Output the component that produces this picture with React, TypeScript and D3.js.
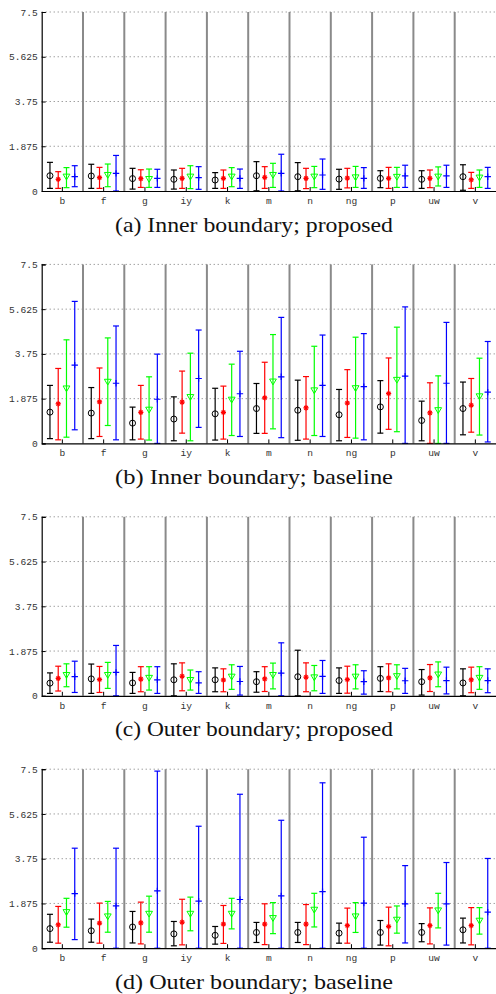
import React, { useEffect, useRef } from 'react';
import * as d3 from 'd3';

const width = 496;
const height = 994;

const categories = ['b', 'f', 'g', 'iy', 'k', 'm', 'n', 'ng', 'p', 'uw', 'v'];
const yTicks = [0, 1.875, 3.75, 5.625, 7.5];
const captions = [
  '(a) Inner boundary; proposed',
  '(b) Inner boundary; baseline',
  '(c) Outer boundary; proposed',
  '(d) Outer boundary; baseline',
];
const colors = ['#000000', '#ff0000', '#00ff00', '#0000ff'];
const markers = ['circle', 'asterisk', 'triangle', 'plus'];

// each entry: [low, mean, high]
const blackA = [[0.11, 0.64, 1.2], [0.11, 0.63, 1.12], [0.08, 0.52, 0.95], [0.08, 0.49, 0.88], [0.11, 0.46, 0.77], [0.01, 0.64, 1.23], [0.01, 0.6, 1.19], [0.07, 0.5, 0.91], [0.14, 0.53, 0.85], [0.11, 0.49, 0.85], [0.03, 0.6, 1.1]];
const redA = [[0.11, 0.49, 0.81], [0.11, 0.56, 0.99], [0.15, 0.52, 0.89], [0.11, 0.53, 0.95], [0.11, 0.53, 0.88], [0.11, 0.57, 1.02], [0.1, 0.53, 0.95], [0.13, 0.54, 0.95], [0.11, 0.53, 0.99], [0.14, 0.53, 0.88], [0.11, 0.47, 0.78]];
const greenA = [[0.14, 0.6, 0.98], [0.18, 0.67, 1.13], [0.15, 0.5, 0.92], [0.1, 0.6, 1.06], [0.18, 0.6, 0.98], [0.15, 0.67, 1.16], [0.14, 0.6, 1.03], [0.15, 0.57, 1.03], [0.15, 0.59, 0.99], [0.21, 0.6, 1.01], [0.15, 0.56, 0.88]];
const blueA = [[0.18, 0.6, 1.06], [0, 0.74, 1.49], [0.15, 0.53, 0.91], [0.07, 0.56, 1.02], [0.11, 0.53, 0.92], [0, 0.74, 1.54], [0.07, 0.67, 1.34], [0.11, 0.53, 0.98], [0.15, 0.63, 1.08], [0.15, 0.63, 1.08], [0.11, 0.6, 0.99]];

const blackB = [[0.2, 1.31, 2.43], [0.2, 1.27, 2.34], [0.15, 0.85, 1.52], [0.11, 1.02, 1.95], [0.14, 1.24, 2.31], [0.42, 1.46, 2.51], [0.13, 1.39, 2.65], [0.11, 1.2, 2.26], [0.43, 1.53, 2.63], [0.11, 0.96, 1.77], [0.36, 1.46, 2.57]];
const redB = [[0.15, 1.66, 3.14], [0.29, 1.74, 3.16], [0.18, 1.3, 2.43], [0.43, 1.73, 3.03], [0.18, 1.3, 2.4], [0.42, 1.91, 3.4], [0.18, 1.49, 2.8], [0.25, 1.69, 3.09], [0.59, 2.09, 3.58], [0, 1.28, 2.54], [0.47, 1.6, 2.72]];
const greenB = [[0.26, 2.3, 4.34], [0.75, 2.58, 4.42], [0.14, 1.41, 2.79], [0.11, 1.94, 3.78], [0.33, 1.83, 3.32], [0.61, 2.59, 4.56], [0.33, 2.22, 4.07], [0.22, 2.31, 4.45], [0.49, 2.66, 4.87], [0, 1.39, 2.83], [0.35, 1.97, 3.57]];
const blueB = [[0.57, 3.28, 5.95], [0.15, 2.52, 4.92], [0, 1.85, 3.74], [0.67, 2.72, 4.75], [0.29, 2.08, 3.86], [0.24, 2.79, 5.28], [0.29, 2.43, 4.54], [0.15, 2.38, 4.6], [0, 2.82, 5.72], [0, 2.52, 5.07], [0.06, 2.15, 4.27]];

const blackC = [[0.1, 0.53, 0.96], [0.1, 0.71, 1.33], [0.1, 0.54, 0.98], [0, 0.67, 1.34], [0.17, 0.67, 1.17], [0.15, 0.59, 1.01], [0, 0.8, 1.91], [0.1, 0.64, 1.17], [0.18, 0.73, 1.22], [0.03, 0.59, 1.1], [0, 0.54, 1.13]];
const redC = [[0.2, 0.73, 1.24], [0.14, 0.68, 1.23], [0.17, 0.7, 1.22], [0.21, 0.82, 1.38], [0.17, 0.66, 1.13], [0.18, 0.71, 1.22], [0.17, 0.78, 1.38], [0.11, 0.68, 1.24], [0.17, 0.75, 1.34], [0.18, 0.75, 1.31], [0.13, 0.67, 1.2]];
const greenC = [[0.38, 0.87, 1.34], [0.31, 0.87, 1.4], [0.24, 0.75, 1.22], [0.24, 0.66, 1.08], [0.27, 0.8, 1.3], [0.29, 0.87, 1.37], [0.21, 0.77, 1.27], [0.29, 0.8, 1.3], [0.29, 0.82, 1.3], [0.38, 0.89, 1.42], [0.27, 0.75, 1.22]];
const blueC = [[0.14, 0.8, 1.45], [0, 0.98, 2.11], [0.1, 0.67, 1.22], [0.1, 0.54, 1.01], [0.03, 0.6, 1.23], [0, 0.95, 2.22], [0.1, 0.81, 1.48], [0.07, 0.59, 1.05], [0.1, 0.63, 1.15], [0.08, 0.64, 1.2], [0.13, 0.64, 1.13]];

const blackD = [[0.25, 0.82, 1.42], [0.25, 0.73, 1.22], [0.22, 0.89, 1.54], [0.1, 0.6, 1.12], [0.17, 0.54, 0.91], [0.24, 0.66, 1.08], [0.24, 0.66, 1.08], [0.21, 0.63, 1.05], [0.13, 0.66, 1.16], [0.27, 0.66, 1.03], [0.22, 0.77, 1.26]];
const redD = [[0.21, 0.98, 1.75], [0.21, 1.05, 1.89], [0.18, 1.06, 1.93], [0.14, 1.09, 2.05], [0.2, 1.01, 1.79], [0.15, 1.01, 1.86], [0.15, 1.01, 1.83], [0.21, 0.95, 1.68], [0.1, 0.91, 1.72], [0.18, 0.95, 1.69], [0.14, 0.95, 1.7]];
const greenD = [[0.88, 1.51, 2.09], [0.67, 1.33, 1.96], [0.67, 1.44, 2.18], [0.73, 1.44, 2.14], [0.81, 1.44, 2.09], [0.61, 1.26, 1.91], [0.89, 1.61, 2.3], [0.66, 1.33, 1.91], [0.63, 1.19, 1.77], [0.85, 1.58, 2.3], [0.59, 1.15, 1.7]];
const blueD = [[0.36, 2.29, 4.19], [0, 1.77, 4.19], [0, 2.4, 7.42], [0, 1.97, 5.11], [0, 2.04, 6.45], [0, 2.19, 5.36], [0, 2.37, 6.93], [0, 1.89, 4.65], [0.22, 1.86, 3.46], [0.13, 1.86, 3.59], [0, 1.51, 3.76]];

const panels = [
  [blackA, redA, greenA, blueA],
  [blackB, redB, greenB, blueB],
  [blackC, redC, greenC, blueC],
  [blackD, redD, greenD, blueD],
];

const left = 41.7;
const right = 496;
const firstTop = 12;
const panelStep = 252.4;
const plotH = 179;

const x = d3.scaleBand().domain(categories).range([left, right]).padding(0);
const offset = d3
  .scalePoint()
  .domain(['0', '1', '2', '3'])
  .range([(-1.5 * x.bandwidth()) / 5, (1.5 * x.bandwidth()) / 5]);

function drawMarker(g, kind, cx, cy, color) {
  if (kind === 'circle') {
    g.append('circle').attr('cx', cx).attr('cy', cy).attr('r', 3)
      .attr('fill', 'none').attr('stroke', color).attr('stroke-width', 1);
  } else if (kind === 'asterisk') {
    const r = 2.6;
    for (let a = 0; a < 180; a += 45) {
      const t = (a * Math.PI) / 180;
      g.append('line')
        .attr('x1', cx - r * Math.cos(t)).attr('y1', cy - r * Math.sin(t))
        .attr('x2', cx + r * Math.cos(t)).attr('y2', cy + r * Math.sin(t))
        .attr('stroke', color).attr('stroke-width', 1.3);
    }
  } else if (kind === 'triangle') {
    const s = 3.4;
    g.append('path')
      .attr('d', `M${cx - s},${cy - s * 0.75}L${cx + s},${cy - s * 0.75}L${cx},${cy + s * 0.95}Z`)
      .attr('fill', 'none').attr('stroke', color).attr('stroke-width', 1);
  } else {
    const s = 3.2;
    g.append('path')
      .attr('d', `M${cx - s},${cy}H${cx + s}M${cx},${cy - s}V${cy + s}`)
      .attr('fill', 'none').attr('stroke', color).attr('stroke-width', 1.2);
  }
}

const App = () => {
  const ref = useRef(null);

  useEffect(() => {
    const svg = d3.select(ref.current);
    svg.selectAll('*').remove();
    svg.append('rect').attr('width', width).attr('height', height).attr('fill', '#fff');

    panels.forEach((series, p) => {
      const top = firstTop + p * panelStep;
      const bottom = top + plotH;
      const y = d3.scaleLinear().domain([0, 7.5]).range([bottom, top]);
      const g = svg.append('g');

      // dotted grid
      g.selectAll('line.grid')
        .data(yTicks.filter(t => t > 0))
        .enter()
        .append('line')
        .attr('x1', left).attr('x2', right)
        .attr('y1', d => y(d)).attr('y2', d => y(d))
        .attr('stroke', '#777').attr('stroke-width', 1)
        .attr('stroke-dasharray', '1,3');

      // category separators
      g.selectAll('line.sep')
        .data(categories.slice(1))
        .enter()
        .append('line')
        .attr('x1', d => x(d)).attr('x2', d => x(d))
        .attr('y1', top).attr('y2', bottom)
        .attr('stroke', '#8a8a8a').attr('stroke-width', 2);

      // error bars and markers
      series.forEach((vals, s) => {
        const color = colors[s];
        vals.forEach((v, i) => {
          const cx = x(categories[i]) + x.bandwidth() / 2 + offset(String(s));
          const [lo, mean, hi] = v;
          g.append('line')
            .attr('x1', cx).attr('x2', cx)
            .attr('y1', y(lo)).attr('y2', y(hi))
            .attr('stroke', color).attr('stroke-width', 1.2);
          [lo, hi].forEach(e => {
            g.append('line')
              .attr('x1', cx - 3).attr('x2', cx + 3)
              .attr('y1', y(e)).attr('y2', y(e))
              .attr('stroke', color).attr('stroke-width', 1.2);
          });
          drawMarker(g, markers[s], cx, y(mean), color);
        });
      });

      // y axis
      const yAxis = d3
        .axisLeft(y)
        .tickValues(yTicks)
        .tickSize(-4)
        .tickPadding(4)
        .tickFormat(d => String(d));
      const ya = g.append('g').attr('transform', `translate(${left},0)`).call(yAxis);
      ya.select('.domain').attr('stroke', '#000').attr('stroke-width', 1.2);
      ya.selectAll('.tick line').attr('stroke', '#000');
      ya.selectAll('text')
        .attr('font-family', '"Liberation Mono", monospace')
        .attr('font-size', 9.6)
        .attr('fill', '#333');

      // x axis
      const xAxis = d3.axisBottom(x).tickSize(-4).tickPadding(6).tickSizeOuter(0);
      const xa = g.append('g').attr('transform', `translate(0,${bottom})`).call(xAxis);
      xa.select('.domain').attr('stroke', '#000').attr('stroke-width', 1.2);
      xa.selectAll('.tick line').attr('stroke', '#000');
      xa.selectAll('text')
        .attr('font-family', '"Liberation Mono", monospace')
        .attr('font-size', 9.6)
        .attr('fill', '#333');

      // caption
      g.append('text')
        .attr('x', 254)
        .attr('y', bottom + 40.5)
        .attr('text-anchor', 'middle')
        .attr('font-family', '"Liberation Serif", "Times New Roman", serif')
        .attr('font-size', 21.5)
        .attr('textLength', 278)
        .attr('lengthAdjust', 'spacingAndGlyphs')
        .attr('fill', '#111')
        .text(captions[p]);
    });
  });

  return (
    <div style={{ position: 'absolute', left: 0, top: 0 }}>
      <svg ref={ref} width={width} height={height} style={{ display: 'block' }} />
    </div>
  );
};

export default App;
